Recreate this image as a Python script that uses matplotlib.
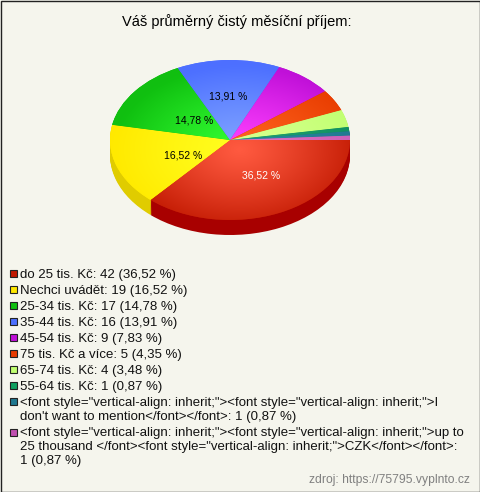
import numpy as np
import matplotlib
matplotlib.use("Agg")
import matplotlib.pyplot as plt
from matplotlib.colors import to_rgb
from matplotlib.patches import Rectangle

plt.rcParams['font.family'] = ['Liberation Sans', 'DejaVu Sans']

TITLE = "Váš průměrný čistý měsíční příjem:"
SOURCE = "zdroj: https://75795.vyplnto.cz"
counts = [42, 19, 17, 16, 9, 5, 4, 1, 1, 1]
legend_labels = [
    "do 25 tis. Kč: 42 (36,52 %)",
    "Nechci uvádět: 19 (16,52 %)",
    "25-34 tis. Kč: 17 (14,78 %)",
    "35-44 tis. Kč: 16 (13,91 %)",
    "45-54 tis. Kč: 9 (7,83 %)",
    "75 tis. Kč a více: 5 (4,35 %)",
    "65-74 tis. Kč: 4 (3,48 %)",
    "55-64 tis. Kč: 1 (0,87 %)",
    "<font style=\"vertical-align: inherit;\"><font style=\"vertical-align: inherit;\">I\ndon't want to mention</font></font>: 1 (0,87 %)",
    "<font style=\"vertical-align: inherit;\"><font style=\"vertical-align: inherit;\">up to\n25 thousand </font><font style=\"vertical-align: inherit;\">CZK</font></font>:\n1 (0,87 %)",
]
pct_labels = ["36,52 %", "16,52 %", "14,78 %", "13,91 %"]
pct_colors = ["white", "black", "black", "black"]
legend_colors = ["#c01800", "#ffe800", "#10c010", "#4d70ff", "#c010d8", "#e83c00", "#c0ff70", "#10a060", "#207890", "#c050b0"]
center_colors = ["#ff5a40", "#ffff20", "#33ff33", "#80a4ff", "#ff40ff", "#ff6420", "#d8ff90", "#20a070", "#2888a0", "#e070c0"]
edge_colors = ["#c01800", "#ffea00", "#10c010", "#4d70ff", "#c010d8", "#e83c00", "#c0ff70", "#109060", "#207890", "#c860b8"]
side_colors = ["#a80000", "#e0cc00", "#0c900c", "#3050c0", "#9000a0", "#b02c00", "#90c050", "#0c7048", "#185a6c", "#964088"]

W, H = 480, 492
BG = "#f5f5ed"
fig = plt.figure(figsize=(W / 100, H / 100), dpi=100, facecolor=BG)
page = fig.add_axes([0, 0, 1, 1])
page.set_xlim(0, W)
page.set_ylim(H, 0)
page.axis("off")
page.add_patch(Rectangle((0.5, 0.5), W - 1, H - 1, fc="none", ec="#222222", lw=1))

L, T, RW, RH = 110, 60, 240, 160
ax = fig.add_axes([L / W, 1 - (T + RH) / H, RW / W, RH / H])
ax.patch.set_alpha(0)
ax.axis("off")
depth = 15 / (RH / 2)
for off in np.linspace(depth, 0.01, 16):
    ax.pie(counts, colors=side_colors, startangle=0, counterclock=False, radius=1,
           center=(0, -off), wedgeprops=dict(linewidth=0))
wedges, _ = ax.pie(counts, colors=edge_colors, startangle=0, counterclock=False, radius=1,
                   wedgeprops=dict(linewidth=0))
ax.set_aspect("auto")
ax.set_xlim(-1, 1)
ax.set_ylim(-1, 1)

yy, xx = np.mgrid[-1:1:320j, -1:1:480j]
rr = np.clip(np.hypot(xx - 0.08, yy + 0.12) / 1.05, 0, 1)[..., None] ** 1.15
for w, c0, c1 in zip(wedges, center_colors, edge_colors):
    a, b = np.array(to_rgb(c0)), np.array(to_rgb(c1))
    img = a * (1 - rr) + b * rr
    im = ax.imshow(img, extent=(-1, 1, -1, 1), origin="lower", aspect="auto", zorder=3, interpolation="bilinear")
    im.set_clip_path(w)
ax.set_xlim(-1, 1)
ax.set_ylim(-1, 1)

# percentage labels, placed by hand inside their slices (axes units)
label_xy = [(0.26, -0.45), (-0.39, -0.2), (-0.3, 0.24), (-0.017, 0.54)]
for (lx, ly), lab, col in zip(label_xy, pct_labels, pct_colors):
    ax.text(lx, ly, lab, ha="center", va="center", fontsize=7.5, color=col, zorder=5)

page.text(237, 21.5, TITLE, ha="center", va="center", fontsize=10.5, color="black")

y = 274
step = 16
linestep = 14.2
for lab, col in zip(legend_labels, legend_colors):
    page.add_patch(Rectangle((9.5, y - 3.7), 7, 7, fc=col, ec="#222222", lw=0.8))
    lines = lab.split("\n")
    for i, line in enumerate(lines):
        page.text(20, y + 0.8 + i * linestep, line, ha="left", va="center", fontsize=9.55, color="#111111")
    y += step + (len(lines) - 1) * linestep

page.text(470, 479.5, SOURCE, ha="right", va="center", fontsize=8.75, color="#808080")
fig.savefig("out.png", dpi=100, facecolor=BG)
